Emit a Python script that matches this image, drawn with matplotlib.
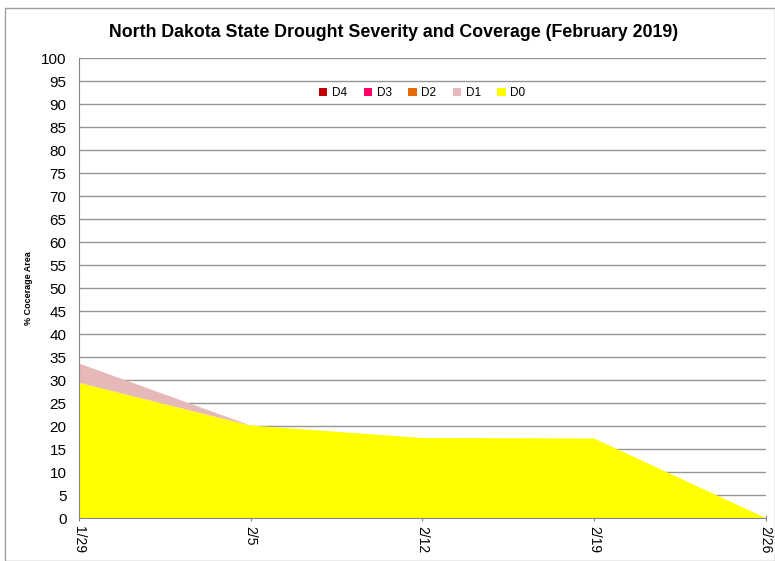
import matplotlib.pyplot as plt
import numpy as np
from matplotlib.patches import Rectangle

plt.rcParams['font.family'] = ['Liberation Sans', 'DejaVu Sans']

dates = ['1/29', '2/5', '2/12', '2/19', '2/26']
d0 = [29.4, 20.1, 17.4, 17.3, 0.0]
d1 = [4.2, 0.0, 0.0, 0.0, 0.0]
d2 = [0.0, 0.0, 0.0, 0.0, 0.0]
d3 = [0.0, 0.0, 0.0, 0.0, 0.0]
d4 = [0.0, 0.0, 0.0, 0.0, 0.0]

labels = ['D0', 'D1', 'D2', 'D3', 'D4']
colors = ['#FFFF00', '#E6B9B8', '#E36C09', '#FF0066', '#C00000']

fig = plt.figure(figsize=(7.75, 5.61), dpi=100)
ax = fig.add_axes([0.102, 0.0766, 0.886, 0.82])

x = np.arange(len(dates))
ax.stackplot(x, d0, d1, d2, d3, d4, labels=labels, colors=colors, linewidth=0)

ax.set_xlim(0, len(dates) - 1)
ax.set_ylim(0, 100)
ax.set_yticks(np.arange(0, 101, 5))
ax.set_xticks(x)
ax.set_xticklabels(dates, rotation=270)
ax.tick_params(axis='y', length=0, labelsize=11, pad=9)
ax.tick_params(axis='x', length=4, color='#868686', labelsize=10, direction='inout')
ax.grid(axis='y', color='#969696', linewidth=1)
ax.set_axisbelow(True)
for s in ['top', 'right']:
    ax.spines[s].set_visible(False)
for s in ['left', 'bottom']:
    ax.spines[s].set_color('#868686')
ax.set_ylabel('% Cocerage Area', fontsize=6.5, fontweight='bold', labelpad=6)

handles, labs = ax.get_legend_handles_labels()
ax.legend(handles[::-1], labs[::-1], loc='upper center', bbox_to_anchor=(0.5, 0.96),
          ncol=5, frameon=False, fontsize=8.5, handlelength=0.7, handleheight=0.7,
          handletextpad=0.4, columnspacing=1.4)

fig.suptitle('North Dakota State Drought Severity and Coverage (February 2019)',
             x=0.508, y=0.957, fontsize=12.8, fontweight='bold')

fig.patches.append(Rectangle((0.007, 0.0), 0.993, 0.985, transform=fig.transFigure,
                             fill=False, edgecolor='#A0A0A0', linewidth=1))

fig.savefig('out.png', dpi=100)
